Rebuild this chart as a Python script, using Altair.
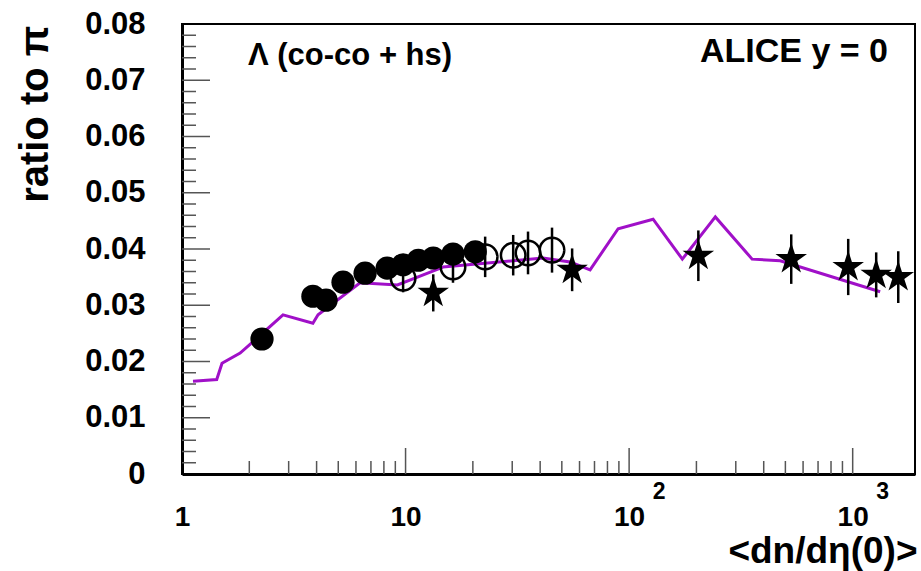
import altair as alt
import pandas as pd

# ---- data ----
# model curve (co-co + hs)
curve_x = [1.12, 1.43, 1.51, 1.82, 2.05, 2.83, 3.85, 4.06, 6.26, 9.2, 12.9, 14.7,
           41.2, 54.5, 66.9, 89.3, 128, 173, 243, 355, 474, 1327]
curve_y = [0.0165, 0.0168, 0.0197, 0.0215, 0.0233, 0.0283, 0.0268, 0.0283, 0.0340,
           0.0336, 0.0359, 0.0368, 0.0384, 0.0377, 0.0363, 0.0436, 0.0453, 0.0382,
           0.0457, 0.0382, 0.0379, 0.0324]

# filled circles
fill_x = [2.28, 3.85, 4.41, 5.25, 6.59, 8.27, 9.75, 11.4, 13.3, 16.3, 20.5]
fill_y = [0.0240, 0.0316, 0.0309, 0.0341, 0.0357, 0.0366, 0.0372, 0.0380, 0.0384,
          0.0391, 0.0395]
fill_e = [0.0012, 0.0015, 0.0015, 0.0012, 0.0012, 0.0012, 0.0012, 0.0012, 0.0012,
          0.0012, 0.0012]

# open circles
open_x = [9.75, 16.3, 22.7, 30.3, 35.3, 45.2]
open_y = [0.0348, 0.0368, 0.0386, 0.0389, 0.0393, 0.0398]
open_e = [0.0025, 0.0028, 0.0036, 0.0036, 0.0038, 0.0040]

# stars
star_x = [13.3, 55.6, 204, 531, 955, 1274, 1599]
star_y = [0.0322, 0.0363, 0.0388, 0.0382, 0.0368, 0.0354, 0.0350]
star_e = [0.0033, 0.0038, 0.0045, 0.0044, 0.0050, 0.0040, 0.0046]

# axis ticks
x_major = [1, 10, 100, 1000]
x_minor = [2, 3, 4, 5, 6, 7, 8, 9, 20, 30, 40, 50, 60, 70, 80, 90,
           200, 300, 400, 500, 600, 700, 800, 900]
x_sup_vals = [100, 1000]
x_sup_text = ["2", "3"]
y_major = [0.0, 0.01, 0.02, 0.03, 0.04, 0.05, 0.06, 0.07, 0.08]
y_minor = [round(0.002 * i, 3) for i in range(41) if i % 5 != 0]

FONT = "Liberation Sans"
W, H = 733, 450
PURPLE = "#a010c8"

curve = pd.DataFrame({"x": curve_x, "y": curve_y})
filled = pd.DataFrame({"x": fill_x, "y": fill_y,
                       "lo": [a - b for a, b in zip(fill_y, fill_e)],
                       "hi": [a + b for a, b in zip(fill_y, fill_e)]})
opened = pd.DataFrame({"x": open_x, "y": open_y,
                       "lo": [a - b for a, b in zip(open_y, open_e)],
                       "hi": [a + b for a, b in zip(open_y, open_e)]})
stars = pd.DataFrame({"x": star_x, "y": star_y,
                      "lo": [a - b for a, b in zip(star_y, star_e)],
                      "hi": [a + b for a, b in zip(star_y, star_e)]})

xscale = alt.Scale(type="log", domain=[1, 1900], nice=False)
yscale = alt.Scale(domain=[0, 0.08], nice=False, zero=False)

xaxis = alt.Axis(values=x_major, ticks=False, tickSize=0, grid=False,
                 labelExpr="datum.value >= 100 ? '10' : format(datum.value, 'd')",
                 labelFont=FONT, labelFontSize=28, labelFontWeight="bold",
                 labelColor="black", labelPadding=29, labelFlush=False,
                 labelOverlap=False, domainColor="black", domainWidth=3,
                 title="<dn/dη(0)>", titleFont=FONT, titleFontSize=37,
                 titleFontWeight="bold", titleColor="black",
                 titleX=735, titleY=88, titleAlign="right",
                 titleBaseline="alphabetic")
yaxis = alt.Axis(values=y_major, ticks=False, tickSize=0, grid=False,
                 labelExpr="datum.value == 0 ? '0' : format(datum.value, '.2f')",
                 labelFont=FONT, labelFontSize=31, labelFontWeight="bold",
                 labelColor="black", labelPadding=37, labelFlush=False,
                 labelOverlap=False, domainColor="black", domainWidth=3,
                 title="ratio to π", titleFont=FONT, titleFontSize=40,
                 titleFontWeight="bold", titleColor="black", titleAngle=270,
                 titleX=-135, titleY=1, titleAlign="right",
                 titleBaseline="alphabetic")


def X(f="x"):
    return alt.X(f"{f}:Q", scale=xscale, axis=xaxis)


def Y(f="y"):
    return alt.Y(f"{f}:Q", scale=yscale, axis=yaxis)


line = alt.Chart(curve).mark_line(color=PURPLE, strokeWidth=3).encode(x=X(), y=Y())

def errbars(df):
    return alt.Chart(df).mark_rule(color="black", strokeWidth=2.5).encode(
        x=X(), y=Y("lo"), y2="hi:Q")

STAR = ("M0,-1L0.2245,-0.309L0.951,-0.309L0.363,0.118L0.588,0.809L0,0.382"
        "L-0.588,0.809L-0.363,0.118L-0.951,-0.309L-0.2245,-0.309Z")

pts_fill = alt.Chart(filled).mark_point(shape="circle", filled=True, size=540,
                                        color="black", opacity=1).encode(x=X(), y=Y())
pts_open = alt.Chart(opened).mark_point(shape="circle", filled=False, size=600,
                                        color="black", strokeWidth=2.5,
                                        opacity=1).encode(x=X(), y=Y())
pts_star = alt.Chart(stars).mark_point(shape=STAR, filled=True, size=1100,
                                       color="black", opacity=1).encode(x=X(), y=Y())

# inward tick marks
xt_minor = alt.Chart(pd.DataFrame({"x": x_minor})).mark_rule(
    color="#555", strokeWidth=1.5).encode(x=X(), y=alt.value(H), y2=alt.value(H - 13))
xt_major = alt.Chart(pd.DataFrame({"x": x_major[1:]})).mark_rule(
    color="#555", strokeWidth=1.5).encode(x=X(), y=alt.value(H), y2=alt.value(H - 26))
yt_minor = alt.Chart(pd.DataFrame({"y": y_minor})).mark_rule(
    color="#555", strokeWidth=1.5).encode(y=Y(), x=alt.value(0), x2=alt.value(14))
yt_major = alt.Chart(pd.DataFrame({"y": y_major[1:-1]})).mark_rule(
    color="#555", strokeWidth=1.5).encode(y=Y(), x=alt.value(0), x2=alt.value(28))

sup = alt.Chart(pd.DataFrame({"x": x_sup_vals, "t": x_sup_text})).mark_text(
    font=FONT, fontSize=23, fontWeight="bold", color="black", dx=30,
    baseline="alphabetic", align="center").encode(x=X(), y=alt.value(H + 25), text="t:N")

lab1 = alt.Chart(pd.DataFrame({"t": ["Λ (co-co + hs)"]})).mark_text(
    font=FONT, fontSize=31, fontWeight="bold", color="black", align="left",
    baseline="middle").encode(x=alt.value(66), y=alt.value(32), text="t:N")
lab2 = alt.Chart(pd.DataFrame({"t": ["ALICE y = 0"]})).mark_text(
    font=FONT, fontSize=34, fontWeight="bold", color="black", align="right",
    baseline="alphabetic").encode(x=alt.value(706), y=alt.value(38), text="t:N")

chart = alt.layer(
    line, xt_minor, xt_major, yt_minor, yt_major,
    errbars(filled), errbars(opened), errbars(stars),
    pts_fill, pts_open, pts_star, sup, lab1, lab2
).properties(
    width=W, height=H,
    autosize=alt.AutoSizeParams(type="none"),
    padding={"left": 182, "top": 24, "right": 6, "bottom": 97},
    background="white",
).configure_view(stroke="black", strokeWidth=2)

chart.save("out.html", embed_options={"renderer": "svg", "actions": False})
